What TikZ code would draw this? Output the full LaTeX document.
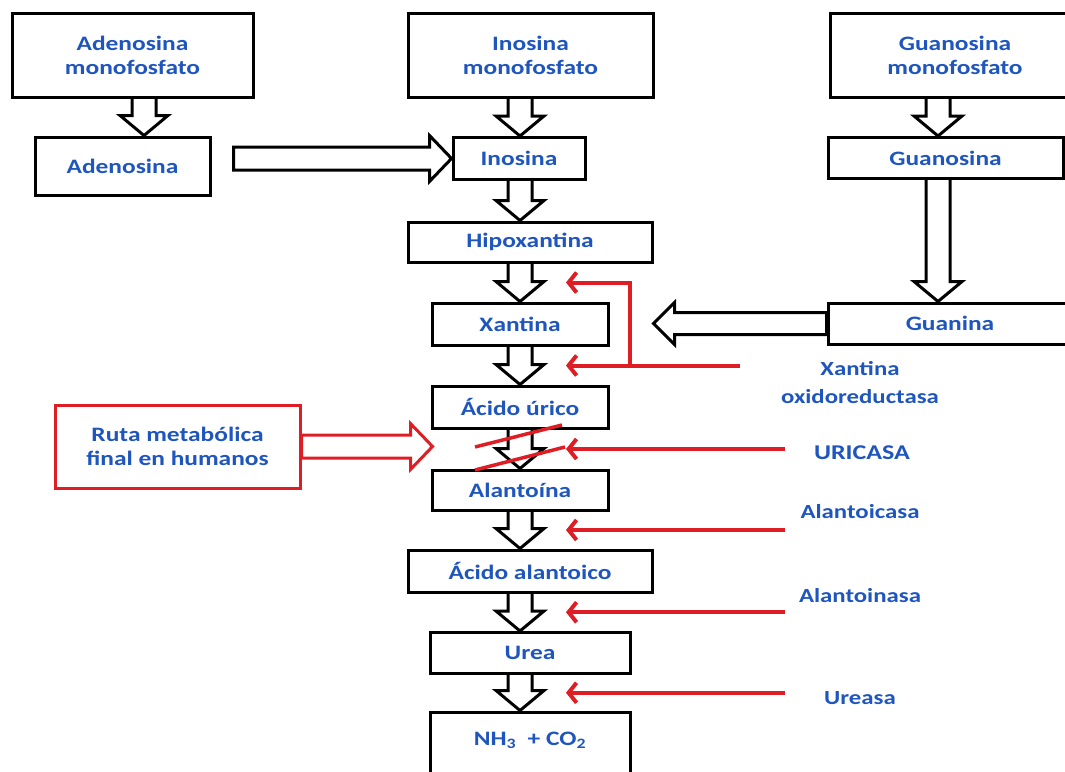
\documentclass[tikz,border=0pt]{standalone}
\usepackage{fontspec}
\usetikzlibrary{calc,arrows.meta}
\newfontfamily\lbl[FakeStretch=1.24]{Carlito}
\definecolor{azul}{RGB}{30,85,190}
\definecolor{rojo}{RGB}{222,30,36}
\tikzset{
  caja/.style={draw, line width=3pt, text=azul, align=center, inner sep=0pt,
    font=\lbl\bfseries\fontsize{20.5}{24}\selectfont},
  flecha/.style={draw, line width=3pt, line join=miter},
  enz/.style={draw=rojo, line width=4pt, -{Straight Barb[length=8pt,width=20pt]}},
  enzlbl/.style={text=azul, align=center, inner sep=0pt,
    font=\lbl\bfseries\fontsize{20}{28}\selectfont}
}
\newcommand{\blockdown}[3][]{%
  \draw[flecha,#1] let \p1=(#2), \p2=(#3) in
    (\x1-12pt,\y1) -- (\x1-12pt,\y2+20pt) -- (\x1-24pt,\y2+20pt) -- (\x1,\y2)
    -- (\x1+24pt,\y2+20pt) -- (\x1+12pt,\y2+20pt) -- (\x1+12pt,\y1);}
\newcommand{\blockright}[3][]{%
  \draw[flecha,#1] let \p1=(#2), \p2=(#3) in
    (\x1,\y1+11.5pt) -- (\x2-22pt,\y1+11.5pt) -- (\x2-22pt,\y1+23pt) -- (\x2,\y1)
    -- (\x2-22pt,\y1-23pt) -- (\x2-22pt,\y1-11.5pt) -- (\x1,\y1-11.5pt) -- cycle;}
\newcommand{\blockleft}[3][]{%
  \draw[flecha,#1] let \p1=(#2), \p2=(#3) in
    (\x1,\y1+11pt) -- (\x2+21pt,\y1+11pt) -- (\x2+21pt,\y1+21pt) -- (\x2,\y1)
    -- (\x2+21pt,\y1-21pt) -- (\x2+21pt,\y1-11pt) -- (\x1,\y1-11pt) -- cycle;}
\begin{document}
\begin{tikzpicture}[x=1pt,y=-1pt]
\useasboundingbox[fill=white] (0,0) rectangle (1065,771);

\node[caja, minimum width=241, minimum height=84] (amp) at (132.5,55) {Adenosina\\monofosfato};
\node[caja, minimum width=245, minimum height=84] (imp) at (530.5,55) {Inosina\\monofosfato};
\node[caja, minimum width=250, minimum height=84] (gmp) at (955,55) {Guanosina\\monofosfato};

\node[caja, minimum width=175, minimum height=58] (aden) at (122.5,166) {Adenosina};
\node[caja, minimum width=132, minimum height=42] (ino) at (519,158.5) {Inosina};
\node[caja, minimum width=235, minimum height=41] (guo) at (945.5,158) {Guanosina};

\node[caja, minimum width=244, minimum height=40] (hx) at (530,242) {\raisebox{-3pt}{Hipoxantina}};
\node[caja, minimum width=176, minimum height=42] (xan) at (520,324) {Xantina};
\node[caja, minimum width=254, minimum height=41] (gua) at (955,323.5) {\hspace*{-10pt}Guanina};
\node[caja, minimum width=176, minimum height=42] (uric) at (520,407) {Ácido úrico};
\node[caja, minimum width=176, minimum height=40] (alan) at (520,490) {Alantoína};
\node[caja, minimum width=244, minimum height=42] (alac) at (530,571) {Ácido alantoico};
\node[caja, minimum width=200, minimum height=41] (urea) at (530,653) {Urea};
\node[caja, minimum width=200, anchor=base, text height=33pt, text depth=45pt] (nh) at (530,745)
  {NH\textsubscript{3}\ \ + CO\textsubscript{2}};

\node[caja, draw=rojo, minimum width=245, minimum height=83] (ruta) at (177.5,446.5)
  {Ruta metabólica\\final en humanos};

\coordinate (c1) at (144,0);
\coordinate (c2) at (520,0);
\coordinate (c3) at (938,0);

\blockdown{amp.south -| c1}{aden.north -| c1}
\blockdown{imp.south -| c2}{ino.north -| c2}
\blockdown{gmp.south -| c3}{guo.north -| c3}
\blockdown{guo.south -| c3}{gua.north -| c3}
\blockdown{ino.south -| c2}{hx.north -| c2}
\blockdown{hx.south -| c2}{xan.north -| c2}
\blockdown{xan.south -| c2}{uric.north -| c2}
\blockdown{uric.south -| c2}{alan.north -| c2}
\blockdown{alan.south -| c2}{alac.north -| c2}
\blockdown{alac.south -| c2}{urea.north -| c2}
\blockdown{urea.south -| c2}{nh.north -| c2}

\blockright{$(aden.east |- ino.west)+(22,0)$}{ino.west}
\blockleft{gua.west}{$(xan.east)+(44,0)$}
\blockright[draw=rojo]{ruta.east}{$(ruta.east)+(131,0)$}

\coordinate (tip) at (566,0);
\coordinate (rin) at (785,0);
\coordinate (xo) at (740,0);
\coordinate (bend) at (630,0);
\coordinate (g1) at ($(hx.south)!.5!(xan.north)$);
\coordinate (g2) at ($(xan.south)!.5!(uric.north)$);
\coordinate (g3) at ($(uric.south)!.5!(alan.north)$);
\coordinate (g4) at ($(alan.south)!.5!(alac.north)$);
\coordinate (g5) at ($(alac.south)!.5!(urea.north)$);
\coordinate (g6) at ($(urea.south)!.5!(nh.north)$);

\draw[enz] (g2 -| xo) -- (g2 -| tip);
\draw[enz] (g2 -| bend) -- (g1 -| bend) -- (g1 -| tip);
\draw[enz] (g3 -| rin) -- (g3 -| tip);
\draw[enz] (g4 -| rin) -- (g4 -| tip);
\draw[enz] (g5 -| rin) -- (g5 -| tip);
\draw[enz] (g6 -| rin) -- (g6 -| tip);

\draw[rojo, line width=3.5pt] (475,447) -- (562,425);
\draw[rojo, line width=3.5pt] (475,470) -- (565,447);

\node[enzlbl] (xolbl) at (860,383) {Xantina\\oxidoreductasa};
\node[enzlbl, font=\lbl\bfseries\fontsize{21}{24}\selectfont] (urlbl) at (862,453) {URICASA};
\node[enzlbl] (aclbl) at (860,512) {Alantoicasa};
\node[enzlbl] (anlbl) at (860,596) {Alantoinasa};
\node[enzlbl] (urelbl) at (860,698) {Ureasa};
\end{tikzpicture}
\end{document}
